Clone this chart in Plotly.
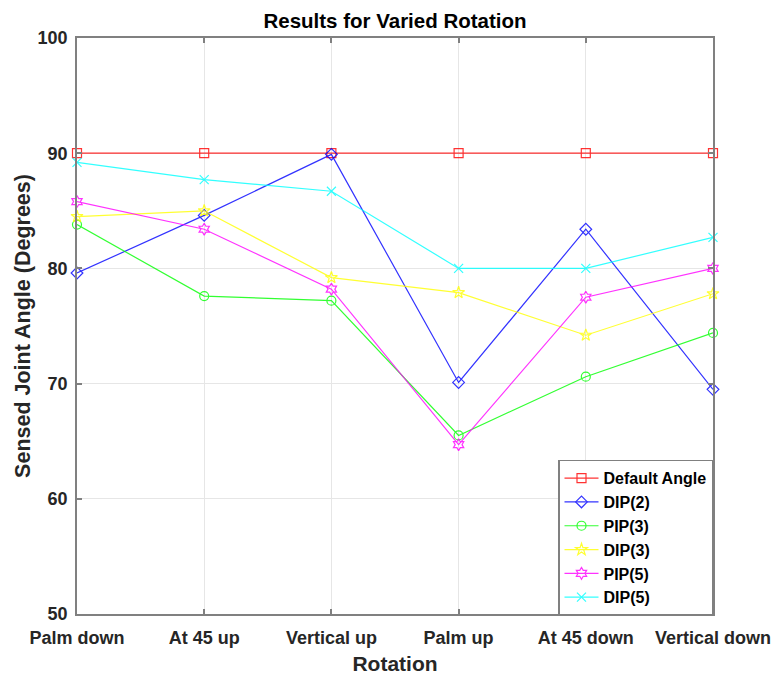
import plotly.graph_objects as go

categories = ["Palm down", "At 45 up", "Vertical up", "Palm up", "At 45 down", "Vertical down"]
default_angle = [90, 90, 90, 90, 90, 90]
dip2 = [79.6, 84.6, 89.9, 70.1, 83.4, 69.5]
pip3 = [83.8, 77.6, 77.2, 65.5, 70.6, 74.4]
dip3 = [84.5, 85.0, 79.2, 77.9, 74.2, 77.8]
pip5 = [85.8, 83.4, 78.2, 64.7, 77.5, 80.0]
dip5 = [89.2, 87.7, 86.7, 80.0, 80.0, 82.7]

series = [
    ("Default Angle", default_angle, "#FF0000", "square-open"),
    ("DIP(2)", dip2, "#0000FF", "diamond-open"),
    ("PIP(3)", pip3, "#00FF00", "circle-open"),
    ("DIP(3)", dip3, "#FFFF00", "star-open"),
    ("PIP(5)", pip5, "#FF00FF", "hexagram-open"),
    ("DIP(5)", dip5, "#00FFFF", "x-thin-open"),
]

fig = go.Figure()
for name, vals, color, sym in series:
    fig.add_trace(go.Scatter(
        x=categories, y=vals, name=name, mode="lines+markers",
        line=dict(color=color, width=1.2),
        marker=dict(symbol=sym, size=9, color=color, line=dict(color=color, width=1.2)),
        cliponaxis=False, opacity=0.8,
    ))

font_family = "Liberation Sans, Arial, sans-serif"
fig.update_layout(
    width=774, height=677,
    margin=dict(l=77, r=61, t=38, b=63),
    paper_bgcolor="white", plot_bgcolor="white",
    title=dict(text="<b>Results for Varied Rotation</b>", x=(77 + 713) / 2 / 774, xanchor="center",
               y=1 - 21 / 677, yanchor="middle",
               font=dict(family=font_family, size=20.5, color="#000000")),
    font=dict(family=font_family, color="#262626"),
    showlegend=True,
    legend=dict(x=1, y=-0.003, xanchor="right", yanchor="bottom",
                bgcolor="white", bordercolor="#808080", borderwidth=1.5,
                font=dict(family=font_family, size=16, color="#000000", weight="bold"),
                itemwidth=34, tracegroupgap=0),
)
fig.update_xaxes(
    type="category", range=[0, 5], automargin=False,
    showgrid=True, gridcolor="#e6e6e6", gridwidth=1,
    showline=True, linecolor="#808080", linewidth=1.5, mirror="ticks",
    ticks="inside", ticklen=5, tickcolor="#808080", tickwidth=1.5,
    tickfont=dict(family=font_family, size=18, color="#262626", weight="bold"),
    ticklabelstandoff=7,
    title=dict(text="<b>Rotation</b>", font=dict(family=font_family, size=21, color="#262626"), standoff=9),
    zeroline=False,
)
fig.update_yaxes(
    range=[50, 100], tickvals=[50, 60, 70, 80, 90, 100], automargin=False,
    showgrid=True, gridcolor="#e6e6e6", gridwidth=1,
    showline=True, linecolor="#808080", linewidth=1.5, mirror="ticks",
    ticks="inside", ticklen=5, tickcolor="#808080", tickwidth=1.5,
    tickfont=dict(family=font_family, size=18, color="#262626", weight="bold"),
    ticklabelstandoff=4,
    title=dict(text="<b>Sensed Joint Angle (Degrees)</b>", font=dict(family=font_family, size=21.5, color="#262626"), standoff=1),
    zeroline=False,
)

fig.write_html("out.html")
